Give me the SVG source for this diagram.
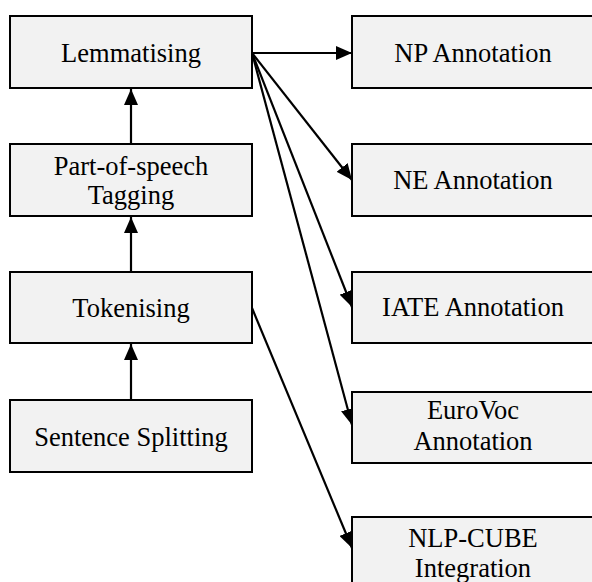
<svg xmlns="http://www.w3.org/2000/svg" width="592" height="582" viewBox="0 0 592 582">
<defs>
<style>
.box{fill:#f2f2f2;stroke:#000;stroke-width:2}
.t{font-family:'Liberation Serif','DejaVu Serif',serif;font-size:26.5px;fill:#000;text-anchor:middle}
.c{stroke:#000;stroke-width:2.2;fill:none;marker-end:url(#ah)}
</style>
<marker id="ah" viewBox="0 0 16 14" refX="16" refY="7" markerWidth="16" markerHeight="14" markerUnits="userSpaceOnUse" orient="auto">
<path d="M0,0 L16,7 L0,14 Z" fill="#000"/>
</marker>
</defs>
<rect width="592" height="582" fill="#fff"/>
<g id="connectors">
<line class="c" x1="131" y1="144" x2="131" y2="89"/>
<line class="c" x1="131" y1="272" x2="131" y2="217"/>
<line class="c" x1="131" y1="400" x2="131" y2="344"/>
<line class="c" x1="252" y1="53" x2="352" y2="53"/>
<line class="c" x1="252" y1="53" x2="352" y2="180"/>
<line class="c" x1="252" y1="53" x2="352" y2="307"/>
<line class="c" x1="252" y1="53" x2="352" y2="425"/>
<line class="c" x1="252" y1="308" x2="352" y2="548"/>
</g>
<g id="lemmatising"><rect class="box" x="10" y="16" width="242" height="72"/><text class="t" x="131" y="62" font-family="Liberation Serif">Lemmatising</text></g>
<g id="pos"><rect class="box" x="10" y="144" width="242" height="72"/><text class="t" x="131" y="175">Part-of-speech</text><text class="t" x="131" y="204">Tagging</text></g>
<g id="tokenising"><rect class="box" x="10" y="272" width="242" height="71"/><text class="t" x="131" y="317">Tokenising</text></g>
<g id="sentence"><rect class="box" x="10" y="400" width="242" height="72"/><text class="t" x="131" y="446">Sentence Splitting</text></g>
<g id="np"><rect class="box" x="352" y="16" width="242" height="72"/><text class="t" x="473" y="62">NP Annotation</text></g>
<g id="ne"><rect class="box" x="352" y="144" width="242" height="72"/><text class="t" x="473" y="189">NE Annotation</text></g>
<g id="iate"><rect class="box" x="352" y="272" width="242" height="71"/><text class="t" x="473" y="316">IATE Annotation</text></g>
<g id="eurovoc"><rect class="box" x="352" y="392" width="242" height="71"/><text class="t" x="473" y="419">EuroVoc</text><text class="t" x="473" y="450">Annotation</text></g>
<g id="nlpcube"><rect class="box" x="352" y="517" width="242" height="72"/><text class="t" x="473" y="547">NLP-CUBE</text><text class="t" x="473" y="577">Integration</text></g>
</svg>
